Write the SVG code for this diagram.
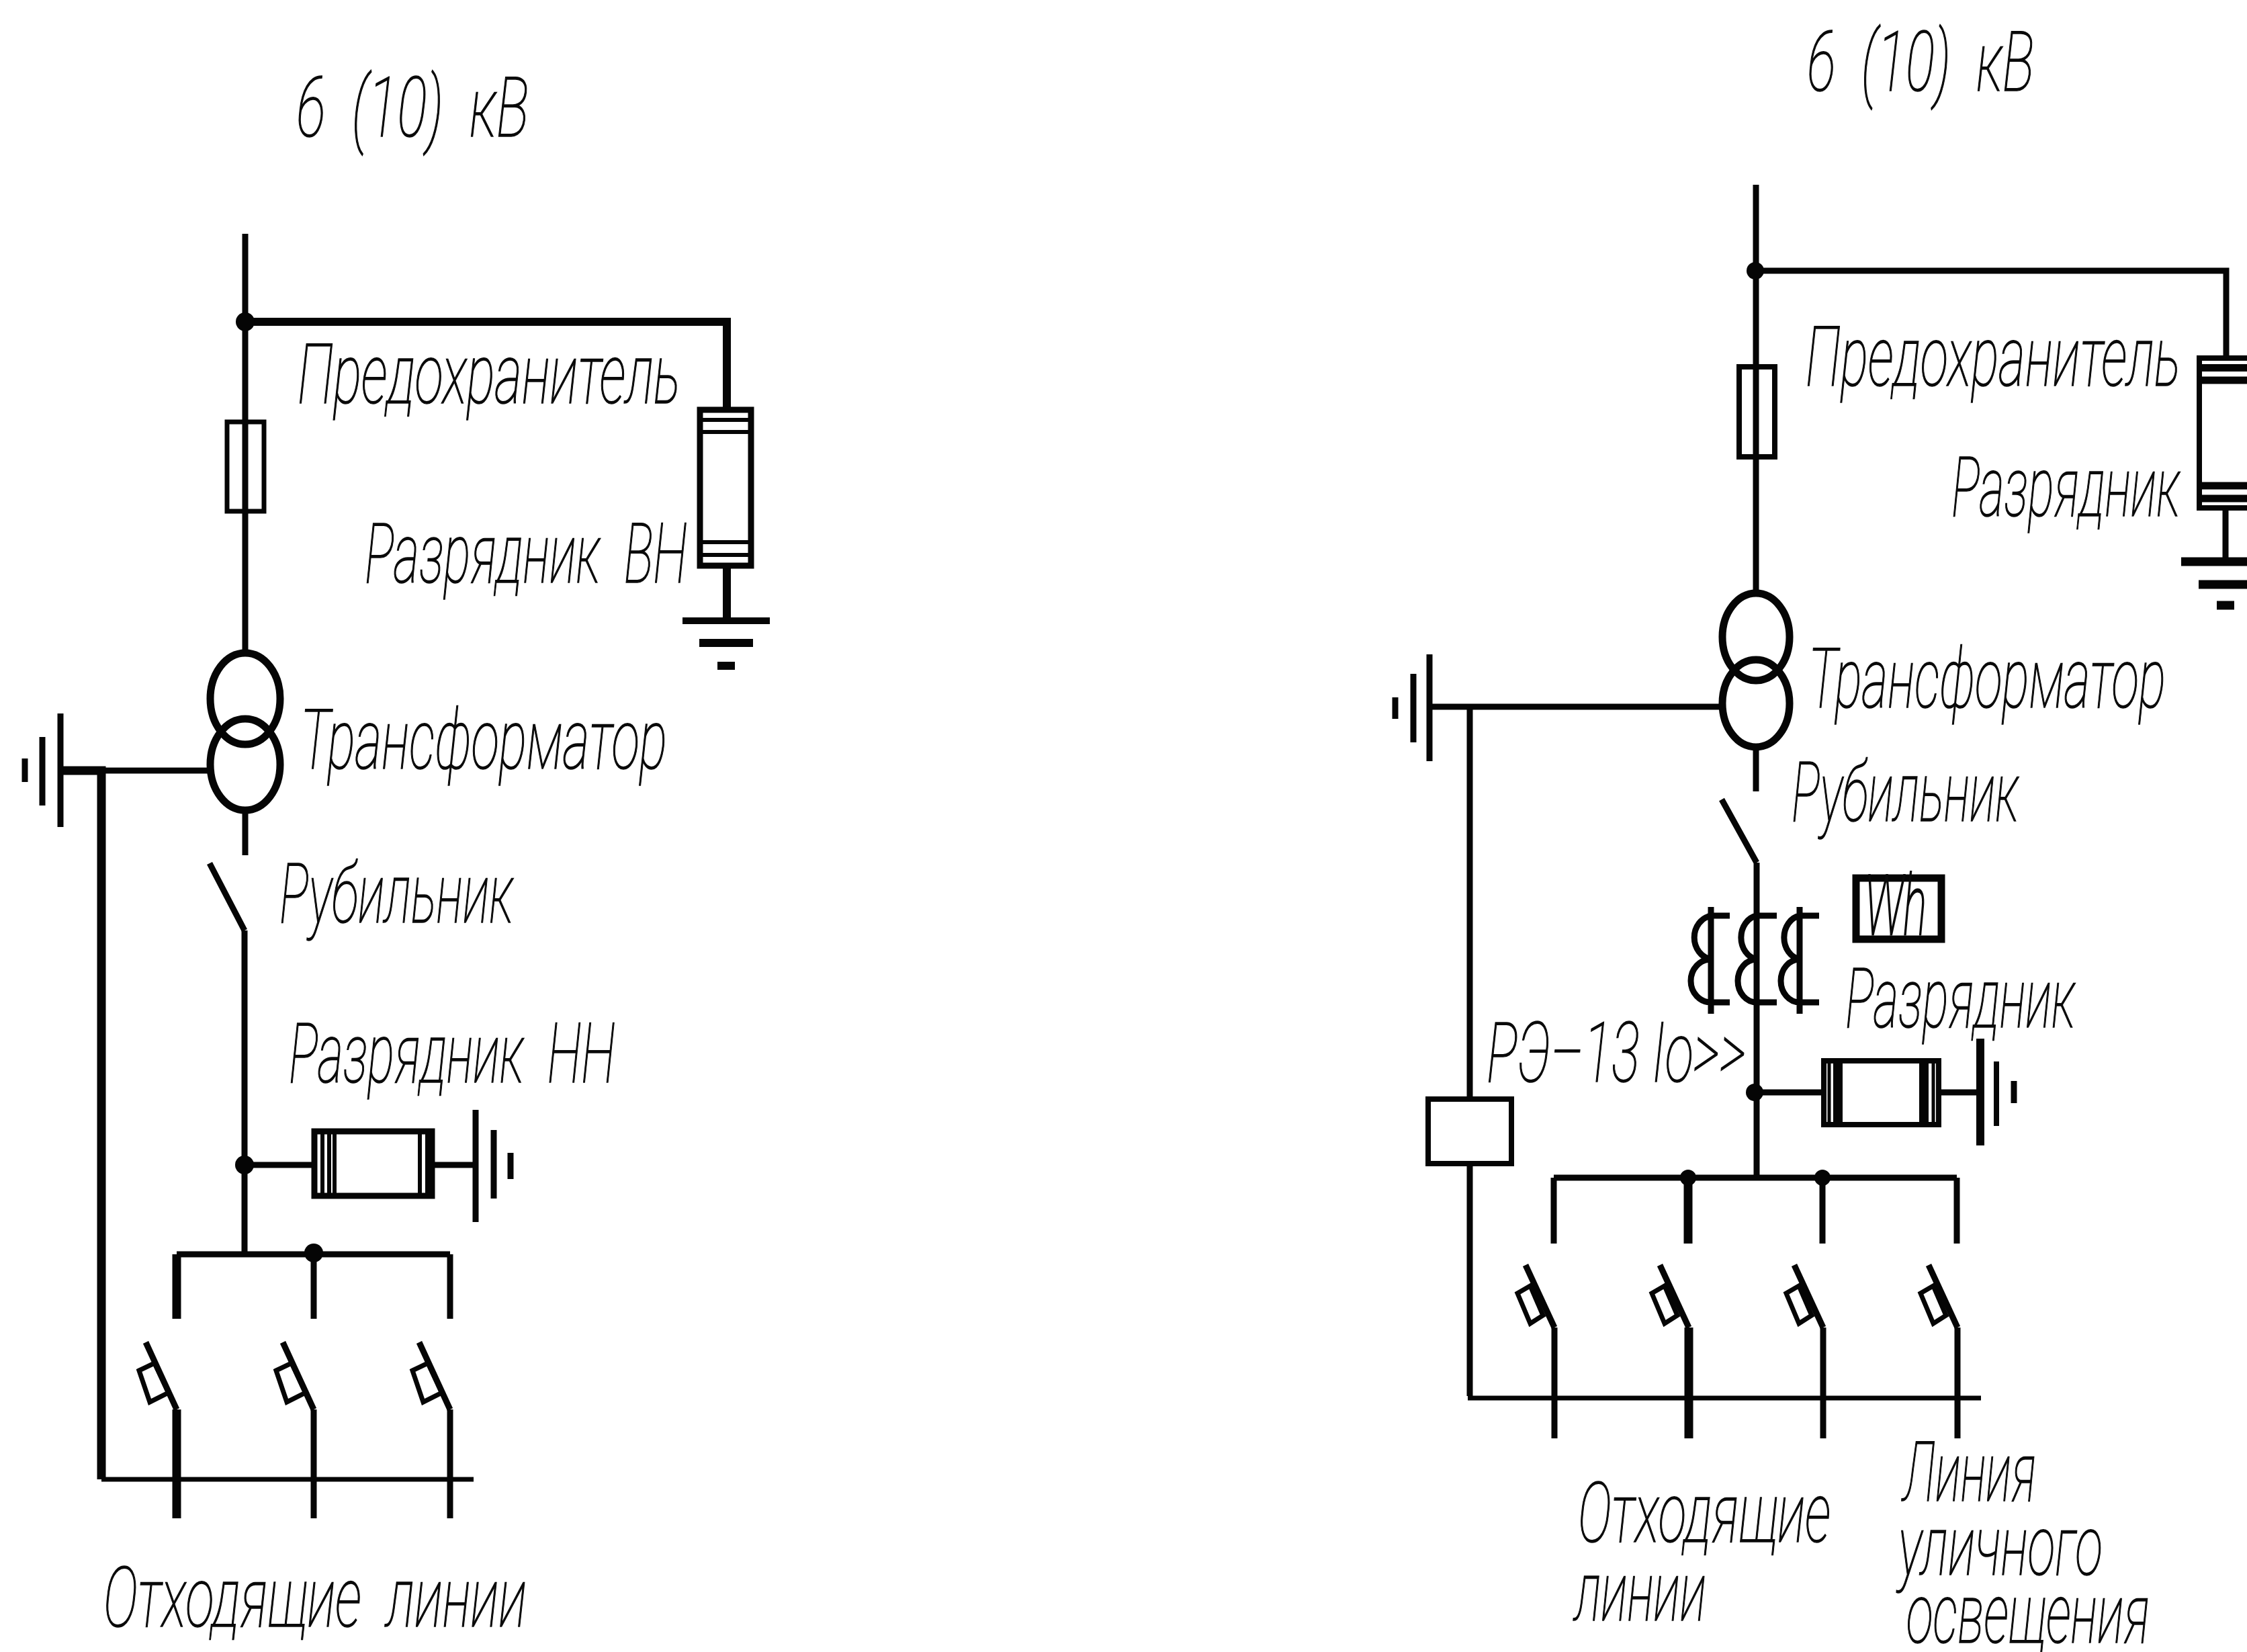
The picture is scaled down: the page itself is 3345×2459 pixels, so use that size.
<svg xmlns="http://www.w3.org/2000/svg" xmlns:xlink="http://www.w3.org/1999/xlink" width="3345" height="2459" viewBox="0 0 3345 2459">
<style>
.l{fill:none;stroke:#050505;stroke-width:9}
.t{stroke-width:13}
.m{stroke-width:7}
.d{fill:#050505}
.x{font-family:"Roboto","Liberation Sans",sans-serif;font-style:italic;font-weight:100;font-size:124px;fill:#0a0a0a;stroke:#0a0a0a;stroke-width:1.6;white-space:pre}
</style>
<defs>
<g id="blade"><path class="l" d="M-46-100L0 0"/><path class="l m" d="M-56-58L-33-69L-12-25L-40-11Z"/></g>
<g id="blade2"><path class="l" d="M-43-93L0 0"/><path class="l m" d="M-55-51L-36-62L-17-18L-36-6Z"/></g>
</defs>
<rect width="3345" height="2459" fill="#fff"/>
<g id="connectors">
<path class="l" d="M365 348V970M365 1209V1273M364 1385V1867"/>
<path class="l t" style="stroke-width:12" d="M365 479H1082V606M1082 844V924"/>
<path class="l" d="M92 1147H314M312 1285L364 1385"/>
<path class="l t" d="M92 1147H151V2202"/>
<path class="l" d="M364 1734H464M647 1734H708M263 1867H670M467 1867V1963M670 1867V1963"/>
<path class="l t" d="M263 1867V1963M263 2098V2260"/>
<path class="l" d="M467 2098V2260M670 2098V2260"/>
<path class="l m" d="M151 2202H705"/>
<path class="l" d="M2614 275V881M2614 1114V1178M2615 1284V1753M2563 1190L2615 1284"/>
<path class="l" d="M2614 403H3314V531M3313 759V836"/>
<path class="l" d="M2128 1052H2562M2188 1052V1634"/>
<path class="l" d="M2188 1734V2078"/>
<path class="l m" d="M2185 2081H2949"/>
<path class="l" d="M2612 1626H2713M2888 1626H2948M2313 1753H2913M2313 1753V1851M2713 1753V1851M2913 1753V1851"/>
<path class="l t" d="M2513 1753V1851"/>
<path class="l" d="M2314 1976V2141M2714 1976V2141M2914 1976V2141"/>
<path class="l t" d="M2514 1976V2141"/>
</g>
<g id="left-junctions">
<circle class="d" cx="365" cy="479" r="14"/><circle class="d" cx="364" cy="1734" r="14"/><circle class="d" cx="467" cy="1865" r="14"/>
</g>
<g id="left-fuse"><rect class="l m" x="338" y="628" width="55" height="133"/></g>
<g id="left-arrester-hv">
<rect class="l" x="1042" y="610" width="76" height="232"/>
<path class="l" style="stroke-width:6" d="M1042 625H1118M1042 643H1118M1042 807H1118M1042 826H1118"/>
</g>
<g id="left-ground-hv">
<path class="l" style="stroke-width:10" d="M1016 924H1146"/><path class="l" style="stroke-width:12" d="M1041 957H1121M1068 991H1094"/>
</g>
<g id="left-transformer">
<ellipse class="l" style="stroke-width:11" cx="365" cy="1040" rx="52" ry="68"/><ellipse class="l" style="stroke-width:11" cx="365" cy="1138" rx="52" ry="68"/>
</g>
<g id="left-ground-tr"><path class="l" d="M90 1062V1231M63 1097V1199M37 1129V1164"/></g>
<g id="left-arrester-lv">
<rect class="l" x="468" y="1684" width="175" height="96"/>
<path class="l" style="stroke-width:6" d="M480 1684V1780M490 1684V1780M498 1684V1780M625 1684V1780M636 1684V1780"/>
<path class="l" d="M708 1652V1819M735 1682V1784M760 1716V1755"/>
</g>
<g id="left-breaker-1"><use href="#blade" x="263" y="2098"/></g>
<g id="left-breaker-2"><use href="#blade" x="467" y="2098"/></g>
<g id="left-breaker-3"><use href="#blade" x="670" y="2098"/></g>

<g id="right-junctions">
<circle class="d" cx="2613" cy="403" r="13"/><circle class="d" cx="2612" cy="1626" r="13"/><circle class="d" cx="2513" cy="1753" r="12"/><circle class="d" cx="2713" cy="1753" r="12"/>
</g>
<g id="right-fuse"><rect class="l" style="stroke-width:8" x="2589" y="546" width="53" height="134"/></g>
<g id="right-arrester-hv">
<rect class="l" style="stroke-width:8" x="3274" y="533" width="80" height="223"/>
<path class="l" style="stroke-width:11" d="M3270 547.500H3345M3270 566H3345M3270 723H3345M3270 742H3345"/>
</g>
<g id="right-ground-hv">
<path class="l t" d="M3247 836H3345M3273 870H3345M3300 901H3326"/>
</g>
<g id="right-transformer">
<ellipse class="l" style="stroke-width:11" cx="2614" cy="948" rx="50" ry="65"/><ellipse class="l" style="stroke-width:11" cx="2614" cy="1047" rx="50" ry="65"/>
</g>
<g id="right-ground-tr"><path class="l" d="M2128 974V1133M2104 1003V1105M2077 1038V1070"/></g>
<g id="right-ct-1"><path class="l" d="M2547 1350V1509M2575 1363H2547A30 33 0 0 0 2547 1428A30 32 0 0 0 2547 1492H2575"/></g>
<g id="right-ct-2"><path class="l" d="M2645 1363H2615A28 33 0 0 0 2615 1428A28 32 0 0 0 2615 1492H2645"/></g>
<g id="right-ct-3"><path class="l" d="M2679 1350V1509M2708 1363H2679A28 33 0 0 0 2679 1428A28 32 0 0 0 2679 1492H2708"/></g>
<g id="right-meter"><rect class="l" style="stroke-width:11" x="2763" y="1307" width="127" height="91"/><text class="x" x="2776" y="1391" textLength="92" lengthAdjust="spacingAndGlyphs" style="stroke-width:3">Wh</text></g>
<g id="right-relay"><rect class="l" style="stroke-width:8" x="2126" y="1636" width="124" height="96"/></g>
<g id="right-arrester-lv">
<rect class="l" style="stroke-width:8" x="2715" y="1579" width="171" height="95"/>
<path class="l" style="stroke-width:5" d="M2723 1579V1674M2878 1579V1674"/>
<path class="l" style="stroke-width:14" d="M2736 1579V1674M2864 1579V1674"/>
<path class="l" style="stroke-width:12" d="M2948 1546V1705"/><path class="l" style="stroke-width:8" d="M2972 1580V1676"/><path class="l" d="M2998 1609V1642"/>
</g>
<g id="right-breaker-1"><use href="#blade2" x="2314" y="1976"/></g>
<g id="right-breaker-2"><use href="#blade2" x="2514" y="1976"/></g>
<g id="right-breaker-3"><use href="#blade2" x="2714" y="1976"/></g>
<g id="right-breaker-4"><use href="#blade2" x="2914" y="1976"/></g>

<g id="labels">
<text class="x" x="441" y="203" textLength="346" lengthAdjust="spacingAndGlyphs">6  (10)  кВ</text>
<text class="x" x="443" y="600" textLength="570" lengthAdjust="spacingAndGlyphs">Предохранитель</text>
<text class="x" x="543" y="867" textLength="480" lengthAdjust="spacingAndGlyphs">Разрядник  ВН</text>
<text class="x" x="447" y="1144" textLength="546" lengthAdjust="spacingAndGlyphs">Трансформатор</text>
<text class="x" x="416" y="1373" textLength="348" lengthAdjust="spacingAndGlyphs">Рубильник</text>
<text class="x" x="430" y="1611" textLength="486" lengthAdjust="spacingAndGlyphs">Разрядник  НН</text>
<text class="x" x="154" y="2421" textLength="630" lengthAdjust="spacingAndGlyphs">Отходящие  линии</text>
<text class="x" x="2690" y="135" textLength="338" lengthAdjust="spacingAndGlyphs">6  (10)  кВ</text>
<text class="x" x="2688" y="574" textLength="558" lengthAdjust="spacingAndGlyphs">Предохранитель</text>
<text class="x" x="2905" y="768" textLength="340" lengthAdjust="spacingAndGlyphs">Разрядник</text>
<text class="x" x="2692" y="1053" textLength="532" lengthAdjust="spacingAndGlyphs">Трансформатор</text>
<text class="x" x="2667" y="1222" textLength="338" lengthAdjust="spacingAndGlyphs">Рубильник</text>
<text class="x" x="2747" y="1529" textLength="342" lengthAdjust="spacingAndGlyphs">Разрядник</text>
<text class="x" x="2213" y="1610" textLength="386" lengthAdjust="spacingAndGlyphs">РЭ–13 Iо&gt;&gt;</text>
<text class="x" x="2349" y="2295" textLength="376" lengthAdjust="spacingAndGlyphs">Отходящие</text>
<text class="x" x="2344" y="2412" textLength="196" lengthAdjust="spacingAndGlyphs">линии</text>
<text class="x" x="2833" y="2234" textLength="198" lengthAdjust="spacingAndGlyphs">Линия</text>
<text class="x" x="2826" y="2344" textLength="304" lengthAdjust="spacingAndGlyphs">уличного</text>
<text class="x" x="2838" y="2445" textLength="362" lengthAdjust="spacingAndGlyphs">освещения</text>
</g>
</svg>
